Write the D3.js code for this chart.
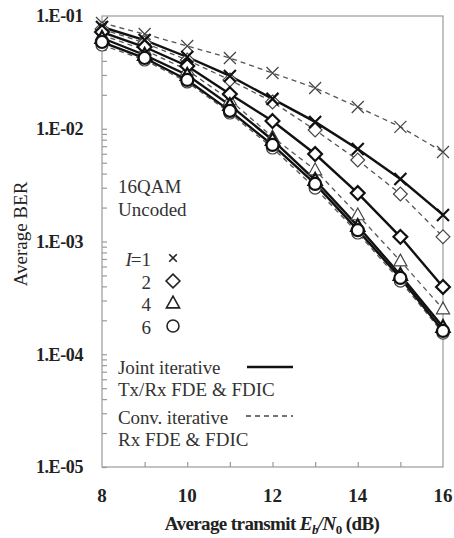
<!DOCTYPE html>
<html>
<head>
<meta charset="utf-8">
<script src="https://cdn.jsdelivr.net/npm/d3@7/dist/d3.min.js"></script>
<style>
  html, body { margin: 0; padding: 0; background: #fff; }
  svg { display: block; font-family: "Liberation Serif", "Times New Roman", serif; }
</style>
</head>
<body>
<svg id="chart" width="454" height="538"></svg>
<script>
// Eb/N0 grid (dB)
const ebn0 = [8, 9, 10, 11, 12, 13, 14, 15, 16];

// Average BER, joint iterative Tx/Rx FDE & FDIC
const jointI1 = [0.0799, 0.0612, 0.0433, 0.0294, 0.0184, 0.0115, 0.00661, 0.00358, 0.00172];
const jointI2 = [0.0721, 0.0531, 0.0360, 0.0203, 0.0117, 0.00597, 0.00269, 0.00110, 0.000395];
const jointI4 = [0.0638, 0.0451, 0.0300, 0.0162, 0.00795, 0.00351, 0.00137, 0.000505, 0.000174];
const jointI6 = [0.0588, 0.0424, 0.0271, 0.0144, 0.00718, 0.00324, 0.00126, 0.000475, 0.000161];

// Average BER, conventional iterative Rx FDE & FDIC
const convI1 = [0.0867, 0.0692, 0.0542, 0.0424, 0.0312, 0.0230, 0.0156, 0.0104, 0.00622];
const convI2 = [0.0767, 0.0576, 0.0407, 0.0271, 0.0173, 0.00975, 0.00528, 0.00264, 0.00110];
const convI4 = [0.0678, 0.0499, 0.0332, 0.0180, 0.00845, 0.00431, 0.00172, 0.000671, 0.000252];
const convI6 = [0.0553, 0.0407, 0.0260, 0.0138, 0.00675, 0.00298, 0.00119, 0.000446, 0.000154];

const yTickLabels = ["1.E-01", "1.E-02", "1.E-03", "1.E-04", "1.E-05"];
const xTickLabels = ["8", "10", "12", "14", "16"];
const iterLabels = ["1", "2", "4", "6"];

const svg = d3.select("#chart");
const m = { left: 102, right: 443, top: 16, bottom: 467 };

const x = d3.scaleLinear().domain([8, 16]).range([m.left, m.right]);
const y = d3.scaleLog().domain([1e-5, 1e-1]).range([m.bottom, m.top]);

const axisColor = "#9a9a9a";

// frame
svg.append("rect")
  .attr("x", m.left).attr("y", m.top)
  .attr("width", m.right - m.left).attr("height", m.bottom - m.top)
  .attr("fill", "none").attr("stroke", axisColor).attr("stroke-width", 1.2);

// y ticks (inside)
const yMinor = [];
for (let e = -5; e < -1; e++) for (let k = 1; k < 10; k++) yMinor.push(k * Math.pow(10, e));
const yAxis = d3.axisRight(y).tickValues(yMinor).tickSize(5).tickFormat("");
svg.append("g").attr("transform", `translate(${m.left},0)`).call(yAxis)
  .call(g => g.select(".domain").remove())
  .call(g => g.selectAll("line").attr("stroke", axisColor).attr("stroke-width", 1.2));

// y tick labels
svg.append("g").selectAll("text")
  .data(yTickLabels)
  .join("text")
  .attr("x", 83)
  .attr("y", (d, i) => y(Math.pow(10, -1 - i)))
  .attr("dy", "0.35em")
  .attr("text-anchor", "end")
  .attr("font-size", 18).attr("font-weight", "bold").attr("fill", "#222")
  .attr("letter-spacing", "-0.4")
  .text(d => d);

// x ticks (inside)
const xAxis = d3.axisTop(x).tickValues(d3.range(9, 16)).tickSize(5).tickFormat("");
svg.append("g").attr("transform", `translate(0,${m.bottom})`).call(xAxis)
  .call(g => g.select(".domain").remove())
  .call(g => g.selectAll("line").attr("stroke", axisColor).attr("stroke-width", 1.2));

svg.append("g").selectAll("text")
  .data(xTickLabels)
  .join("text")
  .attr("x", d => x(+d))
  .attr("y", 495)
  .attr("dy", "0.35em")
  .attr("text-anchor", "middle")
  .attr("font-size", 19).attr("font-weight", "bold").attr("fill", "#222")
  .text(d => d);

// axis titles
const xt = svg.append("text")
  .attr("x", 272).attr("y", 523).attr("dy", "0.35em")
  .attr("text-anchor", "middle")
  .attr("font-size", 19).attr("font-weight", "bold").attr("fill", "#222")
  .attr("letter-spacing", "-0.6");
xt.append("tspan").text("Average transmit ");
xt.append("tspan").attr("font-style", "italic").text("E");
xt.append("tspan").attr("font-style", "italic").attr("font-size", 13).attr("dy", 4).text("b");
xt.append("tspan").attr("font-style", "italic").attr("dy", -4).text("/N");
xt.append("tspan").attr("font-size", 13).attr("dy", 4).text("0");
xt.append("tspan").attr("dy", -4).text(" (dB)");

svg.append("text")
  .attr("transform", `translate(20,234) rotate(-90)`)
  .attr("dy", "0.35em")
  .attr("text-anchor", "middle")
  .attr("font-size", 19).attr("fill", "#222")
  .text("Average BER");

// markers
function drawMarker(g, type, cx, cy, opts) {
  const s = opts.size;
  if (type === "x") {
    g.append("path")
      .attr("d", `M${cx - s},${cy - s}L${cx + s},${cy + s}M${cx - s},${cy + s}L${cx + s},${cy - s}`)
      .attr("stroke", opts.color).attr("stroke-width", opts.sw).attr("fill", "none");
  } else if (type === "diamond") {
    const r = s * 1.15;
    g.append("path")
      .attr("d", `M${cx},${cy - r}L${cx + r},${cy}L${cx},${cy + r}L${cx - r},${cy}Z`)
      .attr("stroke", opts.color).attr("stroke-width", opts.sw).attr("fill", "#fff");
  } else if (type === "triangle") {
    const r = s * 1.15;
    g.append("path")
      .attr("d", `M${cx},${cy - r}L${cx + r * 0.95},${cy + r * 0.7}L${cx - r * 0.95},${cy + r * 0.7}Z`)
      .attr("stroke", opts.color).attr("stroke-width", opts.sw).attr("fill", "#fff");
  } else {
    g.append("circle").attr("cx", cx).attr("cy", cy).attr("r", s)
      .attr("stroke", opts.color).attr("stroke-width", opts.sw).attr("fill", "#fff");
  }
}

const series = [
  { vals: convI1, marker: "x", joint: false },
  { vals: convI2, marker: "diamond", joint: false },
  { vals: convI4, marker: "triangle", joint: false },
  { vals: convI6, marker: "circle", joint: false },
  { vals: jointI1, marker: "x", joint: true },
  { vals: jointI2, marker: "diamond", joint: true },
  { vals: jointI4, marker: "triangle", joint: true },
  { vals: jointI6, marker: "circle", joint: true }
];

const line = d3.line().x((d, i) => x(ebn0[i])).y(d => y(d));

const plot = svg.append("g");
// lines first, then markers on top
series.forEach(s => {
  plot.append("path")
    .datum(s.vals)
    .attr("d", line)
    .attr("fill", "none")
    .attr("stroke", s.joint ? "#111" : "#555")
    .attr("stroke-width", s.joint ? 2.4 : 1.3)
    .attr("stroke-dasharray", s.joint ? null : "5,4");
});
series.forEach(s => {
  const opts = s.joint
    ? { color: "#111", sw: 2.2, size: 6 }
    : { color: "#444", sw: 1.2, size: 6 };
  s.vals.forEach((v, i) => drawMarker(plot, s.marker, x(ebn0[i]), y(v), opts));
});

// legend: scenario
const legendText = "#333";
const legFont = 19;
svg.append("text").attr("x", 118).attr("y", 186).attr("dy", "0.35em")
  .attr("font-size", legFont).attr("fill", legendText).text("16QAM");
svg.append("text").attr("x", 118).attr("y", 209).attr("dy", "0.35em")
  .attr("font-size", legFont).attr("fill", legendText).text("Uncoded");

// legend: iterations
const iterMarkers = ["x", "diamond", "triangle", "circle"];
const iterY = [259, 282, 304, 327];
const leg = svg.append("g");
iterLabels.forEach((lab, i) => {
  const t = leg.append("text").attr("x", 151).attr("y", iterY[i]).attr("dy", "0.35em")
    .attr("text-anchor", "end").attr("font-size", legFont).attr("fill", legendText);
  if (i === 0) {
    t.append("tspan").attr("font-style", "italic").text("I");
    t.append("tspan").attr("dx", -1).text("=1");
  } else {
    t.text(lab);
  }
  drawMarker(leg, iterMarkers[i], 173, iterY[i] - 1,
    { color: "#222", sw: 1.6, size: iterMarkers[i] === "x" ? 3.8 : 6 });
});

// legend: schemes
svg.append("text").attr("x", 118).attr("y", 367).attr("dy", "0.35em")
  .attr("font-size", legFont).attr("fill", legendText).attr("letter-spacing", "-0.1").text("Joint iterative");
svg.append("text").attr("x", 118).attr("y", 389).attr("dy", "0.35em")
  .attr("font-size", legFont).attr("fill", legendText).attr("letter-spacing", "0").text("Tx/Rx FDE & FDIC");
svg.append("line").attr("x1", 247).attr("x2", 293).attr("y1", 367).attr("y2", 367)
  .attr("stroke", "#111").attr("stroke-width", 2.4);

svg.append("text").attr("x", 118).attr("y", 417).attr("dy", "0.35em")
  .attr("font-size", legFont).attr("fill", legendText).attr("letter-spacing", "-0.1").text("Conv. iterative");
svg.append("text").attr("x", 118).attr("y", 439).attr("dy", "0.35em")
  .attr("font-size", legFont).attr("fill", legendText).attr("letter-spacing", "0").text("Rx FDE & FDIC");
svg.append("line").attr("x1", 246).attr("x2", 293).attr("y1", 416).attr("y2", 416)
  .attr("stroke", "#444").attr("stroke-width", 1.3).attr("stroke-dasharray", "5,4");
</script>
</body>
</html>
